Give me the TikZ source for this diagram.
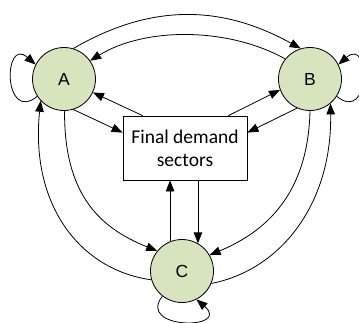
\documentclass[tikz,border=0pt]{standalone}
\usepackage{fontspec}
\setmainfont{Carlito}
\newfontfamily\lblfont{Liberation Sans}
\usetikzlibrary{arrows.meta}
\definecolor{sectorfill}{HTML}{D7E4BD}
\begin{document}
\begin{tikzpicture}[x=1pt,y=-1pt,
  sector/.style={circle,draw,line width=0.8pt,fill=sectorfill,minimum size=63pt,
    inner sep=0pt,font=\lblfont\fontsize{17.5}{20}\selectfont},
  demand/.style={draw,line width=0.8pt,minimum width=124pt,minimum height=64pt,
    inner sep=0pt,align=center,font=\fontsize{19.5}{23.3}\selectfont},
  flow/.style={line width=0.8pt,-{Triangle[length=11pt,width=8.5pt]}}]
\useasboundingbox (0,0) rectangle (359,322);

% sectors and final demand
\node[sector] (A) at (64,79) {A};
\node[sector] (B) at (310,79) {B};
\node[sector] (C) at (182,271) {C};
\node[demand] (box) at (185,148) {Final demand\\sectors};

% A <-> B
\draw[flow] (A.73) .. controls (150,4) and (220,4) .. (B.107);
\draw[flow] (B.141) .. controls (228,27) and (145,27) .. (A.35);

% self loops
\draw[flow] (A.-147) .. controls (3,124) and (3,36) .. (A.153);
\draw[flow] (B.-33) .. controls (371,124) and (371,36) .. (B.27);
\draw[flow] (C.-128) .. controls (136,330) and (232,330) .. (C.-63);

% sectors <-> final demand
\draw[flow] ([xshift=20pt]box.north west) -- (A.-25);
\draw[flow] (A.-73) -- ([yshift=-17pt]box.north west);
\draw[flow] ([xshift=-19pt]box.north east) -- (B.-160);
\draw[flow] (B.-114) -- ([yshift=-17pt]box.north east);
\draw[flow] (C.112) -- (C.112 |- box.south);
\draw[flow] (C.60 |- box.south) -- (C.60);

% A <-> C
\draw[flow] (C.196) .. controls (80,270) and (30,205) .. (A.-137);
\draw[flow] (A.-89) .. controls (64,195) and (100,228) .. (C.141);

% B <-> C
\draw[flow] (B.-90) .. controls (308,195) and (265,232) .. (C.30);
\draw[flow] (C.-23) .. controls (280,270) and (332,205) .. (B.-50);
\end{tikzpicture}
\end{document}
